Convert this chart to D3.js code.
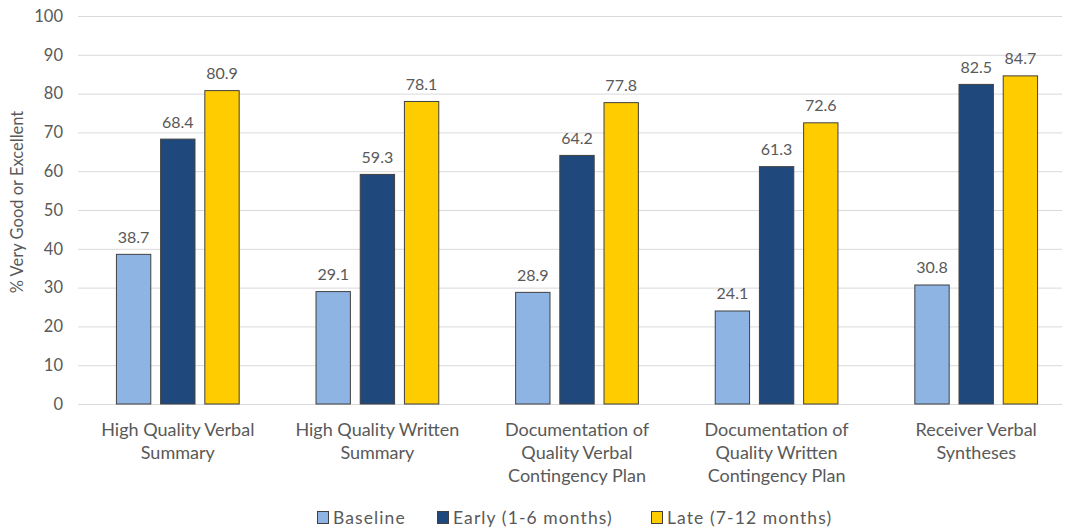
<!DOCTYPE html>
<html>
<head>
<meta charset="utf-8">
<script src="https://cdn.jsdelivr.net/npm/d3@7"></script>
<style>
  html, body { margin: 0; padding: 0; background: #fff; }
  svg text { font-family: Lato, "Open Sans", sans-serif; fill: #595959; }
</style>
</head>
<body>
<svg id="chart" width="1066" height="529"></svg>
<script>
// Handoff quality measures, % rated very good or excellent
const categories = [
  ["High Quality Verbal", "Summary"],
  ["High Quality Written", "Summary"],
  ["Documentation of", "Quality Verbal", "Contingency Plan"],
  ["Documentation of", "Quality Written", "Contingency Plan"],
  ["Receiver Verbal", "Syntheses"]
];
const seriesNames = ["Baseline", "Early (1-6 months)", "Late (7-12 months)"];
const baseline = [38.7, 29.1, 28.9, 24.1, 30.8];
const early = [68.4, 59.3, 64.2, 61.3, 82.5];
const late = [80.9, 78.1, 77.8, 72.6, 84.7];
const yTicks = [0, 10, 20, 30, 40, 50, 60, 70, 80, 90, 100];
const colors = ["#8EB4E3", "#1F497D", "#FFCC00"];

const series = [baseline, early, late];
const svg = d3.select("#chart");

const plotLeft = 78, gridRight = 1062, plotTop = 16, plotBottom = 404;

const x0 = d3.scaleBand()
  .domain(d3.range(categories.length))
  .range([plotLeft, 1076])
  .paddingInner(0).paddingOuter(0);

const x1 = d3.scaleBand()
  .domain(d3.range(series.length))
  .range([x0.bandwidth() * 0.19, x0.bandwidth() * 0.81])
  .paddingInner(0.2);

const y = d3.scaleLinear().domain([0, 100]).range([plotBottom, plotTop]);

// Gridlines
svg.append("g").selectAll("line")
  .data(yTicks)
  .join("line")
  .attr("x1", plotLeft).attr("x2", gridRight)
  .attr("y1", d => y(d) + 0.5).attr("y2", d => y(d) + 0.5)
  .attr("stroke", "#D9D9D9").attr("stroke-width", 1);

// Y axis tick labels
svg.append("g").selectAll("text")
  .data(yTicks)
  .join("text")
  .attr("x", 63)
  .attr("y", d => y(d))
  .attr("dy", "0.35em")
  .attr("text-anchor", "end")
  .style("font-size", "16.5px")
  .text(d => d);

// Y axis title
svg.append("text")
  .attr("transform", "translate(23,202) rotate(-90)")
  .attr("text-anchor", "middle")
  .style("font-size", "16.5px")
  .text("% Very Good or Excellent");

// Bars and value labels
const groups = svg.append("g").selectAll("g")
  .data(categories.map((c, i) => i))
  .join("g")
  .attr("transform", i => "translate(" + x0(i) + ",0)");

groups.selectAll("rect")
  .data(i => series.map((s, k) => ({ k, v: s[i] })))
  .join("rect")
  .attr("x", d => x1(d.k) + 0.5)
  .attr("y", d => y(d.v) + 0.5)
  .attr("width", x1.bandwidth() - 1)
  .attr("height", d => y(0) - y(d.v) - 0.5)
  .attr("fill", d => colors[d.k])
  .attr("stroke", "#404040")
  .attr("stroke-width", 1);

groups.selectAll("text.val")
  .data(i => series.map((s, k) => ({ k, v: s[i] })))
  .join("text")
  .attr("class", "val")
  .attr("x", d => x1(d.k) + x1.bandwidth() / 2)
  .attr("y", d => y(d.v) - 11)
  .attr("text-anchor", "middle")
  .style("font-size", "16px")
  .text(d => d.v.toFixed(1));

// Category labels
groups.append("text")
  .attr("text-anchor", "middle")
  .style("font-size", "18px")
  .each(function (i) {
    const t = d3.select(this);
    categories[i].forEach((line, j) => {
      t.append("tspan")
        .attr("x", x0.bandwidth() / 2)
        .attr("y", 436 + j * 23)
        .text(line);
    });
  });

// Legend
const legendX = [317, 437, 651];
const legend = svg.append("g").selectAll("g")
  .data(seriesNames)
  .join("g")
  .attr("transform", (d, i) => "translate(" + legendX[i] + ",511)");
legend.append("rect")
  .attr("x", 0.5).attr("y", 0.5)
  .attr("width", 11).attr("height", 12)
  .attr("fill", (d, i) => colors[i])
  .attr("stroke", "#404040").attr("stroke-width", 1);
legend.append("text")
  .attr("x", 16).attr("y", 6.5).attr("dy", "0.35em")
  .style("font-size", "17.5px")
  .style("letter-spacing", "1.1px")
  .text(d => d);
</script>
</body>
</html>
